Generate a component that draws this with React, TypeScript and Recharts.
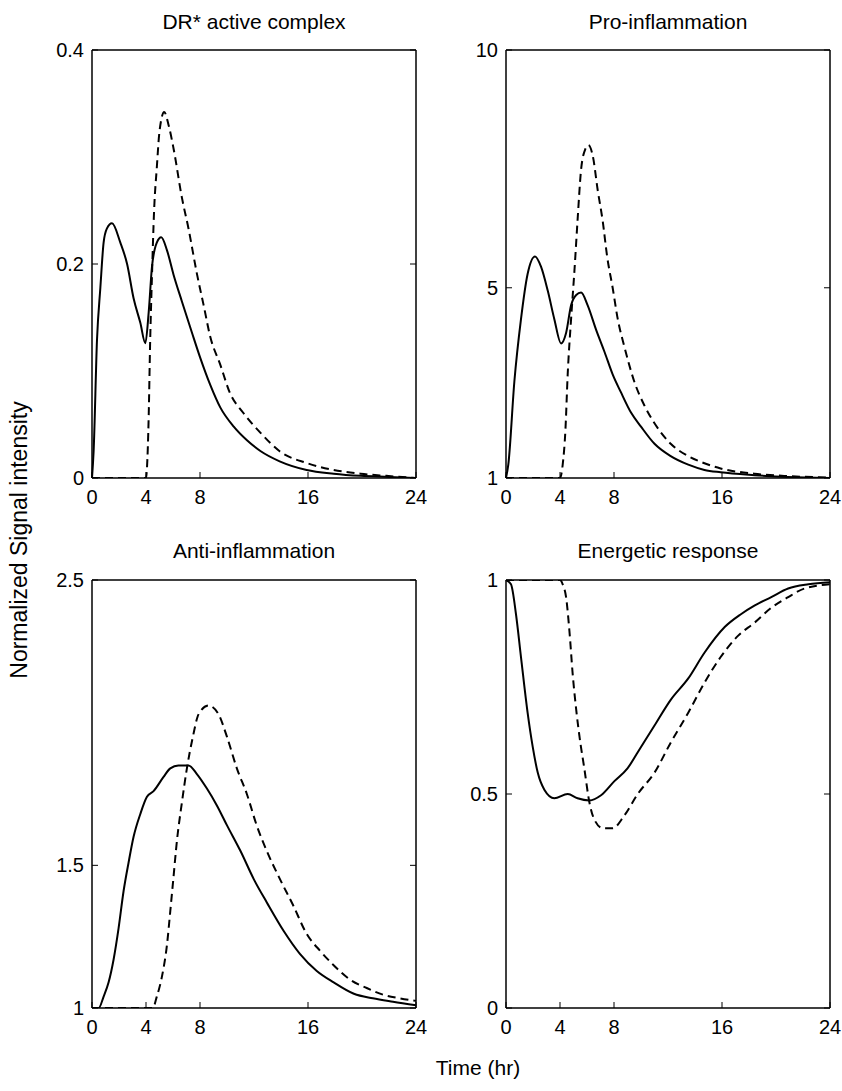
import { LineChart, Line, XAxis, YAxis } from 'recharts'

const FONT = '"Liberation Sans", Arial, sans-serif'

const timeTicks = [0, 4, 8, 16, 24]

// DR* active complex
const drSolidT = [0, 0.12, 0.37, 0.62, 0.86, 1.1, 1.48, 2.1, 2.6, 3.08, 3.58, 3.95, 4.2, 4.44, 4.8, 5.13, 5.55, 6.04, 6.66, 7.4, 8.0, 8.76, 9.5, 10.5, 11.5, 12.5, 13.9, 15.9, 17.9, 19.9, 22, 24]
const drSolidV = [0, 0.025, 0.129, 0.178, 0.22, 0.233, 0.238, 0.22, 0.2, 0.168, 0.145, 0.126, 0.155, 0.197, 0.22, 0.225, 0.213, 0.19, 0.165, 0.136, 0.113, 0.087, 0.066, 0.048, 0.035, 0.025, 0.0156, 0.0075, 0.004, 0.002, 0.001, 0]
const drDashT = [0, 4.0, 4.07, 4.2, 4.3, 4.44, 4.6, 4.8, 5.0, 5.35, 5.67, 6.04, 6.66, 7.15, 7.77, 8.26, 8.76, 9.5, 10.2, 11.2, 12.5, 13.9, 15.9, 17.9, 19.9, 21.8, 24]
const drDashV = [0, 0, 0.009, 0.058, 0.123, 0.188, 0.25, 0.29, 0.324, 0.342, 0.33, 0.308, 0.262, 0.233, 0.191, 0.162, 0.132, 0.106, 0.08, 0.061, 0.042, 0.025, 0.014, 0.0075, 0.004, 0.002, 0]
const drTicks = [0, 0.2, 0.4]

// Pro-inflammation
const proSolidT = [0, 0.17, 0.62, 1.11, 1.6, 2.15, 2.6, 3.1, 3.58, 4.08, 4.45, 4.82, 5.2, 5.56, 6.05, 6.67, 7.3, 7.9, 8.5, 9.27, 10.0, 11.0, 12.2, 13.5, 14.7, 15.9, 18.4, 20.9, 24]
const proSolidV = [1, 1.28, 3.03, 4.34, 5.29, 5.66, 5.44, 4.93, 4.34, 3.83, 4.05, 4.63, 4.85, 4.9, 4.63, 4.12, 3.65, 3.18, 2.81, 2.37, 2.08, 1.72, 1.46, 1.28, 1.17, 1.12, 1.06, 1.02, 1.0]
const proDashT = [0, 4.0, 4.2, 4.4, 4.57, 4.82, 5.07, 5.31, 5.56, 5.88, 6.1, 6.43, 6.8, 7.17, 7.49, 7.9, 8.28, 8.77, 9.5, 10.26, 11.0, 12.2, 13.5, 14.7, 15.9, 18.4, 20.9, 24]
const proDashV = [1, 1, 1.28, 2.0, 3.18, 4.34, 5.36, 6.46, 7.48, 7.92, 8.0, 7.77, 7.04, 6.39, 5.66, 5.0, 4.34, 3.76, 3.03, 2.52, 2.15, 1.72, 1.46, 1.31, 1.2, 1.09, 1.04, 1.01]
const proTicks = [1, 5, 10]

// Anti-inflammation
const antiSolidT = [0, 0.5, 0.86, 1.23, 1.6, 1.97, 2.34, 2.71, 3.08, 3.58, 4.07, 4.56, 5.3, 5.8, 6.4, 7.15, 7.77, 8.5, 9.25, 10.0, 11.0, 12.0, 12.95, 14.2, 15.4, 16.65, 17.9, 19.4, 20.8, 22.3, 24]
const antiSolidV = [1, 1, 1.04, 1.09, 1.17, 1.28, 1.41, 1.51, 1.6, 1.68, 1.74, 1.76, 1.81, 1.84, 1.85, 1.85, 1.82, 1.77, 1.71, 1.64, 1.55, 1.45, 1.37, 1.27, 1.19, 1.13, 1.09, 1.05, 1.034, 1.022, 1.01]
const antiDashT = [0, 4.5, 4.8, 5.18, 5.55, 5.8, 6.0, 6.3, 6.66, 7.03, 7.47, 7.9, 8.63, 9.37, 10.0, 10.73, 11.47, 12.2, 12.95, 13.94, 14.9, 15.9, 16.9, 17.9, 19.1, 20.35, 21.6, 22.8, 24]
const antiDashV = [1, 1, 1.04, 1.11, 1.22, 1.34, 1.44, 1.59, 1.72, 1.84, 1.95, 2.03, 2.06, 2.03, 1.95, 1.84, 1.75, 1.64, 1.55, 1.45, 1.36, 1.26, 1.2, 1.15, 1.1, 1.07, 1.046, 1.034, 1.025]
const antiTicks = [1, 1.5, 2.5]

// Energetic response
const enSolidT = [0, 0.37, 0.74, 1.11, 1.6, 1.98, 2.35, 2.84, 3.58, 4.57, 5.3, 6.18, 7.04, 8.03, 9.0, 10.0, 11.0, 12.2, 13.5, 14.7, 16.2, 17.4, 18.4, 19.65, 20.9, 22.4, 24]
const enSolidV = [1, 0.99, 0.92, 0.82, 0.69, 0.61, 0.55, 0.51, 0.49, 0.5, 0.49, 0.485, 0.497, 0.53, 0.56, 0.61, 0.66, 0.72, 0.77, 0.83, 0.89, 0.92, 0.94, 0.96, 0.98, 0.99, 0.995]
const enDashT = [0, 4.0, 4.2, 4.45, 4.7, 4.94, 5.19, 5.44, 5.8, 6.18, 6.55, 7.17, 7.9, 8.77, 9.76, 11.0, 12.2, 13.5, 14.7, 15.9, 17.2, 18.4, 19.65, 20.9, 22.1, 24]
const enDashV = [1, 1, 0.99, 0.96, 0.88, 0.78, 0.7, 0.635, 0.56, 0.48, 0.44, 0.42, 0.42, 0.45, 0.5, 0.55, 0.62, 0.69, 0.76, 0.82, 0.87, 0.9, 0.935, 0.96, 0.98, 0.99]
const enTicks = [0, 0.5, 1]

const toPoints = (t: number[], v: number[]) => t.map((x, i) => ({ t: x, v: v[i] }))

const PLOT_W = 324
const PLOT_H = 428
const LEFT_AXIS_W = 60
const BOTTOM_AXIS_H = 40
const TICK_LEN = 6
const TICK_FONT = 20

const BottomTick = (props: any) => {
  const { x, y, payload } = props
  return (
    <g>
      <line x1={x} y1={y} x2={x} y2={y - TICK_LEN} stroke="#000" strokeWidth={1} />
      <text x={x} y={y + 26} textAnchor="middle" fontSize={TICK_FONT} fontFamily={FONT} fill="#000">
        {payload.value}
      </text>
    </g>
  )
}

const TopTick = (props: any) => {
  const { x, y } = props
  return <line x1={x} y1={y} x2={x} y2={y + TICK_LEN} stroke="#000" strokeWidth={1} />
}

const LeftTick = (props: any) => {
  const { x, y, payload } = props
  return (
    <g>
      <line x1={x} y1={y} x2={x + TICK_LEN} y2={y} stroke="#000" strokeWidth={1} />
      <text x={x - 8} y={y + 7} textAnchor="end" fontSize={TICK_FONT} fontFamily={FONT} fill="#000">
        {payload.value}
      </text>
    </g>
  )
}

const RightTick = (props: any) => {
  const { x, y } = props
  return <line x1={x} y1={y} x2={x - TICK_LEN} y2={y} stroke="#000" strokeWidth={1} />
}

interface PanelProps {
  left: number
  top: number
  width: number
  height: number
  plotLeft: number
  plotTop: number
  domain: [number, number]
  yTicks: number[]
  solid: { t: number; v: number }[]
  dashed: { t: number; v: number }[]
}

function Panel({ left, top, width, height, plotLeft, plotTop, domain, yTicks, solid, dashed }: PanelProps) {
  const axisLine = { stroke: '#000', strokeWidth: 1.5 }
  return (
    <div style={{ position: 'absolute', left, top, width, height }}>
      <LineChart
        width={width}
        height={height}
        margin={{
          left: plotLeft - LEFT_AXIS_W,
          top: plotTop - 1,
          right: width - plotLeft - PLOT_W - 1,
          bottom: height - plotTop - PLOT_H - BOTTOM_AXIS_H,
        }}
      >
        <XAxis
          xAxisId="b"
          dataKey="t"
          type="number"
          domain={[0, 24]}
          ticks={timeTicks}
          interval={0}
          height={BOTTOM_AXIS_H}
          tickSize={0}
          tickMargin={0}
          axisLine={axisLine}
          tickLine={false}
          tick={BottomTick}
        />
        <XAxis
          xAxisId="t"
          orientation="top"
          dataKey="t"
          type="number"
          domain={[0, 24]}
          ticks={timeTicks}
          interval={0}
          height={1}
          tickSize={0}
          tickMargin={0}
          axisLine={axisLine}
          tickLine={false}
          tick={TopTick}
        />
        <YAxis
          yAxisId="l"
          type="number"
          domain={domain}
          ticks={yTicks}
          interval={0}
          allowDataOverflow
          width={LEFT_AXIS_W}
          tickSize={0}
          tickMargin={0}
          axisLine={axisLine}
          tickLine={false}
          tick={LeftTick}
        />
        <YAxis
          yAxisId="r"
          orientation="right"
          type="number"
          domain={domain}
          ticks={yTicks}
          interval={0}
          allowDataOverflow
          width={1}
          tickSize={0}
          tickMargin={0}
          axisLine={axisLine}
          tickLine={false}
          tick={RightTick}
        />
        <Line
          xAxisId="b"
          yAxisId="l"
          data={dashed}
          dataKey="v"
          type="monotone"
          stroke="#000"
          strokeWidth={2}
          strokeDasharray="8 5"
          dot={false}
          isAnimationActive={false}
        />
        <Line
          xAxisId="b"
          yAxisId="l"
          data={solid}
          dataKey="v"
          type="monotone"
          stroke="#000"
          strokeWidth={2}
          dot={false}
          isAnimationActive={false}
        />
      </LineChart>
    </div>
  )
}

export default function App() {
  return (
    <div style={{ position: 'absolute', left: 0, top: 0, width: 842, height: 1091, background: '#fff' }}>
      <svg width={842} height={1091} style={{ position: 'absolute', left: 0, top: 0 }} fontFamily={FONT}>
        <text x={254} y={29} textAnchor="middle" fontSize={21} fill="#000">DR* active complex</text>
        <text x={668} y={29} textAnchor="middle" fontSize={21} fill="#000">Pro-inflammation</text>
        <text x={254} y={558} textAnchor="middle" fontSize={21} fill="#000">Anti-inflammation</text>
        <text x={668} y={558} textAnchor="middle" fontSize={21} fill="#000">Energetic response</text>
        <text x={478} y={1075} textAnchor="middle" fontSize={21} fill="#000">Time (hr)</text>
        <text transform="translate(27,540) rotate(-90)" textAnchor="middle" fontSize={23} fill="#000">
          Normalized Signal intensity
        </text>
      </svg>
      <Panel left={0} top={0} width={440} height={545} plotLeft={92} plotTop={50}
        domain={[0, 0.4]} yTicks={drTicks} solid={toPoints(drSolidT, drSolidV)} dashed={toPoints(drDashT, drDashV)} />
      <Panel left={421} top={0} width={421} height={545} plotLeft={85} plotTop={50}
        domain={[1, 10]} yTicks={proTicks} solid={toPoints(proSolidT, proSolidV)} dashed={toPoints(proDashT, proDashV)} />
      <Panel left={0} top={545} width={440} height={546} plotLeft={92} plotTop={35}
        domain={[1, 2.5]} yTicks={antiTicks} solid={toPoints(antiSolidT, antiSolidV)} dashed={toPoints(antiDashT, antiDashV)} />
      <Panel left={421} top={545} width={421} height={546} plotLeft={85} plotTop={35}
        domain={[0, 1]} yTicks={enTicks} solid={toPoints(enSolidT, enSolidV)} dashed={toPoints(enDashT, enDashV)} />
    </div>
  )
}
